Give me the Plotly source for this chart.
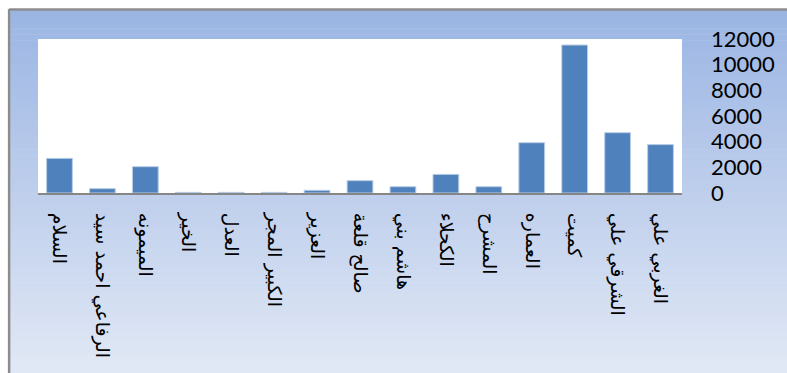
import plotly.graph_objects as go

# ---- data ----
categories = ["السلام", "سيد احمد الرفاعي", "الميمونه", "الخير", "العدل",
              "المجر الكبير", "العزير", "قلعة صالح", "بني هاشم", "الكحلاء",
              "المشرح", "العماره", "كميت", "علي الشرقي", "علي الغربي"]
values = [2700, 340, 2050, 50, 50, 50, 210, 960, 490, 1450, 490, 3920, 11530, 4700, 3770]
y_ticks = [0, 2000, 4000, 6000, 8000, 10000, 12000]

W, H = 787, 373
L, R, T, B = 38, 685, 39, 193  # plot area in pixels


def rev_words(s):
    # reverse word order so that the first word is on top after 90° rotation
    return " ".join(s.split(" ")[::-1])


tick_text = [rev_words(c) for c in categories]

fig = go.Figure()
fig.add_trace(go.Bar(
    x=categories, y=values,
    marker=dict(color="#4F81BD", line=dict(color="#B9CDE5", width=1)),
    width=0.6,
))


def px_x(p):
    return (p - L) / (R - L)


def px_y(p):
    return (B - p) / (B - T)


top_c = (0x9B, 0xB5, 0xE3)
bot_c = (0xE1, 0xE8, 0xF5)
shapes = []
y_start, y_end = 10, 373
n = 60
step = (y_end - y_start) / n
for i in range(n):
    t = i / (n - 1)
    c = tuple(int(round(top_c[k] + (bot_c[k] - top_c[k]) * t)) for k in range(3))
    col = "rgb(%d,%d,%d)" % c
    ya = y_start + i * step
    yb = ya + step + 0.6
    shapes.append(dict(type="rect", xref="paper", yref="paper", layer="below",
                       x0=px_x(10), x1=px_x(800), y0=px_y(yb), y1=px_y(ya),
                       fillcolor=col, line=dict(width=0)))
shapes.append(dict(type="rect", xref="paper", yref="paper", layer="below",
                   x0=0, x1=1, y0=0, y1=1, fillcolor="white", line=dict(width=0)))
shapes.append(dict(type="line", xref="paper", yref="paper",
                   x0=px_x(9), x1=px_x(800), y0=px_y(9.5), y1=px_y(9.5),
                   line=dict(color="#8C8C8C", width=2.5)))
shapes.append(dict(type="line", xref="paper", yref="paper",
                   x0=px_x(9), x1=px_x(9), y0=px_y(9), y1=px_y(380),
                   line=dict(color="#8C8C8C", width=2.5)))

font_fam = "Lato, 'DejaVu Sans', sans-serif"

fig.update_layout(
    width=W, height=H,
    margin=dict(l=L, r=W - R, t=T, b=H - B, pad=0),
    paper_bgcolor="white",
    plot_bgcolor="rgba(0,0,0,0)",
    showlegend=False,
    shapes=shapes,
    bargap=0.4,
    xaxis=dict(
        type="category",
        tickmode="array", tickvals=categories, ticktext=tick_text,
        tickangle=90,
        tickfont=dict(family="'DejaVu Sans', sans-serif", size=19, color="black"),
        showline=True, linecolor="#868686", linewidth=2,
        showgrid=False, ticks="", ticklabelstandoff=14,
        zeroline=False,
    ),
    yaxis=dict(
        side="right", range=[0, 12000],
        tickmode="array", tickvals=y_ticks, ticktext=[str(v) for v in y_ticks],
        tickfont=dict(family=font_fam, size=22, color="black"),
        showgrid=False, showline=False, zeroline=False,
        ticks="", ticklabelstandoff=28,
    ),
)

fig.write_html("out.html")
